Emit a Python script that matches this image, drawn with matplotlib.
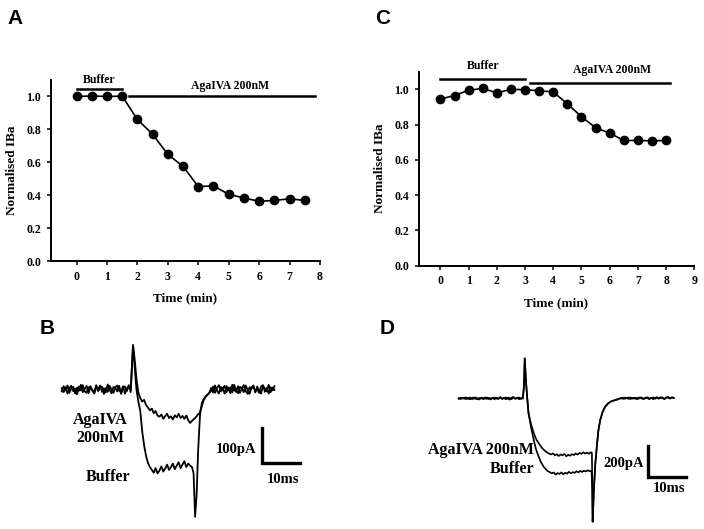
import numpy as np
import matplotlib
matplotlib.use("Agg")
import matplotlib.pyplot as plt

plt.rcParams["font.family"] = ["Liberation Serif", "DejaVu Serif"]
plt.rcParams["font.weight"] = "bold"

# Panel A: normalised IBa vs time
a_time = [0, 0.5, 1, 1.5, 2, 2.5, 3, 3.5, 4, 4.5, 5, 5.5, 6, 6.5, 7, 7.5]
a_iba = [1.0, 1.003, 1.0, 1.002, 0.86, 0.77, 0.648, 0.575, 0.452, 0.457,
         0.405, 0.383, 0.363, 0.368, 0.378, 0.368]

# Panel C: normalised IBa vs time
c_time = [0, 0.5, 1, 1.5, 2, 2.5, 3, 3.5, 4, 4.5, 5, 5.5, 6, 6.5, 7, 7.5, 8]
c_iba = [0.945, 0.965, 0.995, 1.005, 0.98, 1.0, 0.998, 0.992, 0.985, 0.918,
         0.845, 0.782, 0.752, 0.71, 0.71, 0.708, 0.71]

# Panel B: current traces (ms, pA)
b_pre_t = np.arange(0, 18.01, 0.5)
b_post_t = np.arange(39, 55.6, 0.5)
b_aga_pre = [3, -8, 6, -12, 4, 10, -5, 2, -14, 8, -3, 12, -6, -10, 5, 9, -4, -12, 6, 0,
             11, -7, 3, -9, 14, -2, -11, 7, 4, -6, 10, -13, 2, 8, -5, 12, -8]
b_aga_mid_t = [18.3, 18.6, 19.0, 19.5, 20.0, 20.5, 21.0, 21.5, 22.0, 22.5, 23.0, 23.5,
               24.0, 24.5, 25.0, 25.5, 26.0, 26.5, 27.0, 27.5, 28.0, 28.5, 29.0, 29.5,
               30.0, 30.5, 31.0, 31.5, 32.0, 32.5, 33.0, 33.5, 34.0, 34.5, 35.0, 35.5,
               36.0, 36.5, 37.0, 37.5, 38.0, 38.5]
b_aga_mid = [60, 126, 90, 30, -10, -25, -35, -30, -45, -52, -60, -55,
             -68, -62, -75, -78, -72, -84, -76, -70, -82, -77, -86, -74,
             -80, -70, -82, -76, -84, -75, -88, -96, -90, -85, -80, -72,
             -68, -50, -32, -22, -15, -10]
b_aga_post = [-5, 8, -10, 4, 12, -6, 2, -12, 9, -3, 6, -9, 13, -4, -11, 7, 3, -8, 11, -2,
              -13, 5, 10, -6, 1, -10, 8, 12, -7, 4, -12, 6, -3, 9]
b_buf_pre = [-6, 9, -3, 11, -10, 2, 7, -12, 5, -4, 13, -8, 1, 10, -11, 6, -2, -9, 12, -5,
             3, 8, -13, 4, -7, 10, -1, -10, 6, 11, -4, -8, 9, -12, 3, 7, -3]
b_buf_mid_t = [18.3, 18.6, 19.0, 19.5, 20.0, 20.5, 21.0, 21.5, 22.0, 22.5, 23.0, 23.5,
               24.0, 24.5, 25.0, 25.5, 26.0, 26.5, 27.0, 27.5, 28.0, 28.5, 29.0, 29.5,
               30.0, 30.5, 31.0, 31.5, 32.0, 32.5, 33.0, 33.5, 34.0, 34.4, 34.8, 35.2,
               35.6, 36.1, 36.6, 37.2, 37.8, 38.4]
b_buf_mid = [60, 126, 70, 0, -35, -62, -120, -160, -190, -210, -222, -230,
             -238, -225, -240, -232, -220, -235, -226, -215, -230, -222, -212, -228,
             -218, -208, -225, -215, -205, -222, -212, -218, -222, -240, -364, -300,
             -173, -70, -38, -25, -18, -12]
b_buf_post = [4, -9, 11, -3, -12, 7, 2, 10, -8, 5, -11, 13, -2, -7, 9, -10, 3, 12, -5, -13,
              6, 1, 11, -9, 8, -4, -12, 10, 2, -6, 13, -8, 5, -2]

# Panel D: current traces (ms, pA)
d_pre_t = np.arange(0, 17.01, 0.5)
d_post_t = np.arange(42, 57.01, 0.5)
d_aga_pre = [2, -5, 4, -3, 6, -2, -6, 3, 5, -4, 1, -7, 4, 2, -3, 6, -5, 0, 3, -6,
             5, -2, 7, -4, 1, 6, -3, -8, 4, 9, -2, 5, -6, 3, -1]
d_aga_mid_t = [17.3, 17.5, 17.8, 18.1, 18.5, 19.2, 19.9, 20.5, 21.2, 22.0, 22.8, 23.8,
               24.5, 25.0, 25.5, 26.0, 26.5, 27.0, 27.5, 28.0, 28.5, 29.0, 29.5, 30.0,
               30.5, 31.0, 31.5, 32.0, 32.5, 33.0, 33.5, 34.0, 34.5, 35.0, 35.3, 35.5,
               35.8, 36.2, 36.6, 37.0, 37.5, 38.1, 38.8, 39.6, 40.5, 41.5]
d_aga_mid = [80, 258, 120, 20, -95, -170, -224, -262, -290, -318, -338, -355,
             -362, -355, -368, -360, -372, -362, -368, -358, -374, -364, -370, -360,
             -366, -356, -363, -352, -358, -348, -356, -350, -358, -348, -352, -796,
             -600, -420, -312, -210, -140, -90, -54, -32, -18, -11]
d_aga_post = [-6, -2, 3, -4, 5, 1, -3, 6, -2, 4, -5, 2, 7, -1, -4, 5, 3, -6, 2, 6,
              -3, 4, -2, 8, 1, -5, 6, 3, -2, 7, 4]
d_buf_pre = [-3, 4, -1, 6, -5, 2, 5, -4, -2, 7, -6, 3, 1, -5, 6, -3, 4, -7, 2, 5,
             -1, -4, 8, -2, 3, -6, 5, 2, -5, 7, -3, 1, 6, -4, 2]
d_buf_mid_t = [17.3, 17.5, 17.8, 18.1, 18.5, 19.2, 19.9, 20.5, 21.2, 21.8, 22.5, 23.5,
               24.7, 25.2, 25.7, 26.2, 26.7, 27.2, 27.7, 28.2, 28.7, 29.2, 29.7, 30.2,
               30.7, 31.2, 31.7, 32.2, 32.7, 33.2, 33.7, 34.2, 34.7, 35.2, 35.4, 35.5,
               35.8, 36.2, 36.6, 37.0, 37.5, 38.1, 38.8, 39.6, 40.5, 41.5]
d_buf_mid = [80, 258, 120, 20, -95, -190, -270, -330, -376, -412, -441, -468,
             -484, -478, -492, -482, -488, -478, -490, -480, -486, -474, -484, -476,
             -481, -470, -478, -468, -475, -466, -472, -464, -470, -466, -600, -796,
             -600, -420, -312, -210, -140, -90, -54, -32, -18, -11]
d_buf_post = [-8, -4, 1, 5, -3, 2, 6, -5, 3, -1, 5, -4, 2, 6, -3, 1, 7, -2, 4, -5,
              3, 8, -1, 2, 6, -4, 5, 9, 1, 4, 2]

W, H = 704, 529
fig = plt.figure(figsize=(W / 100, H / 100), dpi=100)


def fbox(x0, y0, x1, y1):
    # pixel box (top-left origin) -> figure fraction rect
    return [x0 / W, 1 - y1 / H, (x1 - x0) / W, (y1 - y0) / H]


def style_time_axes(ax, xmax):
    for s in ["top", "right"]:
        ax.spines[s].set_visible(False)
    for s in ["left", "bottom"]:
        ax.spines[s].set_linewidth(1.4)
    ax.tick_params(width=1.1, length=3, labelsize=8.5, pad=4)
    ax.set_yticks([0, 0.2, 0.4, 0.6, 0.8, 1.0])
    ax.set_yticklabels(["0.0", "0.2", "0.4", "0.6", "0.8", "1.0"])
    ax.set_xticks(range(0, xmax + 1))
    ax.set_ylabel("Normalised IBa", fontsize=9.5, fontweight="bold", labelpad=6)
    ax.set_xlabel("Time (min)", fontsize=9.5, fontweight="bold", labelpad=7)
    for lab in ax.get_xticklabels() + ax.get_yticklabels():
        lab.set_fontweight("bold")


# ---- A ----
axA = fig.add_axes(fbox(51, 80, 320, 261))
axA.plot(a_time, a_iba, color="black", lw=1.2, marker="o", ms=6)
axA.set_xlim(-0.84, 8)
axA.set_ylim(0, 1.1)
style_time_axes(axA, 8)
axA.plot([0, 1.5], [1.045, 1.045], color="black", lw=1.8, clip_on=False)
axA.text(0.75, 1.065, "Buffer", ha="center", va="bottom", fontsize=8.5, fontweight="bold")
axA.plot([1.73, 7.84], [1.0, 1.0], color="black", lw=1.8, clip_on=False)
axA.text(5.05, 1.03, "AgaIVA 200nM", ha="center", va="bottom", fontsize=8.5, fontweight="bold")

# ---- C ----
axC = fig.add_axes(fbox(418.7, 71.7, 694.3, 265.7))
axC.plot(c_time, c_iba, color="black", lw=1.2, marker="o", ms=6)
axC.set_xlim(-0.77, 9)
axC.set_ylim(0, 1.1)
style_time_axes(axC, 9)
axC.plot([0, 3], [1.061, 1.061], color="black", lw=1.8, clip_on=False)
axC.text(1.5, 1.1, "Buffer", ha="center", va="bottom", fontsize=8.5, fontweight="bold")
axC.plot([3.19, 8.15], [1.038, 1.038], color="black", lw=1.8, clip_on=False)
axC.text(6.09, 1.075, "AgaIVA 200nM", ha="center", va="bottom", fontsize=8.5, fontweight="bold")

# ---- B ----
axB = fig.add_axes(fbox(40, 330, 340, 529))
axB.axis("off")
axB.set_xlim(-5.66, 72.6)
axB.set_ylim(-398.8, 169.4)
axB.plot(np.concatenate([b_pre_t, b_aga_mid_t, b_post_t]),
         np.concatenate([b_aga_pre, b_aga_mid, b_aga_post]), color="black", lw=1.3)
axB.plot(np.concatenate([b_pre_t, b_buf_mid_t, b_post_t]),
         np.concatenate([b_buf_pre, b_buf_mid, b_buf_post]), color="black", lw=1.3)
axB.plot([52.2, 52.2, 62.2], [-111, -211, -211], color="black", lw=2.4,
         solid_joinstyle="miter")
axB.text(10.0, -99, "AgaIVA", ha="center", va="baseline", fontsize=11.5, fontweight="bold")
axB.text(10.0, -150, "200nM", ha="center", va="baseline", fontsize=11.5, fontweight="bold")
axB.text(12.2, -262, "Buffer", ha="center", va="baseline", fontsize=11.5, fontweight="bold")
axB.text(50.9, -181, "100pA", ha="right", va="baseline", fontsize=10.5, fontweight="bold")
axB.text(57.8, -268, "10ms", ha="center", va="baseline", fontsize=10.5, fontweight="bold")

# ---- D ----
axD = fig.add_axes(fbox(370, 330, 704, 529))
axD.axis("off")
axD.set_xlim(-23.5, 65.0)
axD.set_ylim(-843, 441.2)
axD.plot(np.concatenate([d_pre_t, d_aga_mid_t, d_post_t]),
         np.concatenate([d_aga_pre, d_aga_mid, d_aga_post]), color="black", lw=1.2)
axD.plot(np.concatenate([d_pre_t, d_buf_mid_t, d_post_t]),
         np.concatenate([d_buf_pre, d_buf_mid, d_buf_post]), color="black", lw=1.2)
axD.plot([50.1, 50.1, 60.1], [-305.7, -505.7, -505.7], color="black", lw=2.4,
         solid_joinstyle="miter")
axD.text(19.9, -361, "AgaIVA 200nM", ha="right", va="baseline", fontsize=11.5, fontweight="bold")
axD.text(20.1, -480, "Buffer", ha="right", va="baseline", fontsize=11.5, fontweight="bold")
axD.text(49.0, -441, "200pA", ha="right", va="baseline", fontsize=10.5, fontweight="bold")
axD.text(55.7, -606, "10ms", ha="center", va="baseline", fontsize=10.5, fontweight="bold")

# panel letters
for letter, x, y in [("A", 7, 9), ("B", 40, 319), ("C", 375, 9), ("D", 380, 319)]:
    fig.text(x / W, 1 - y / H, letter, ha="left", va="top", fontsize=15,
             fontweight="bold", family=["Liberation Sans", "DejaVu Sans"])

fig.savefig("out.png", dpi=100)
